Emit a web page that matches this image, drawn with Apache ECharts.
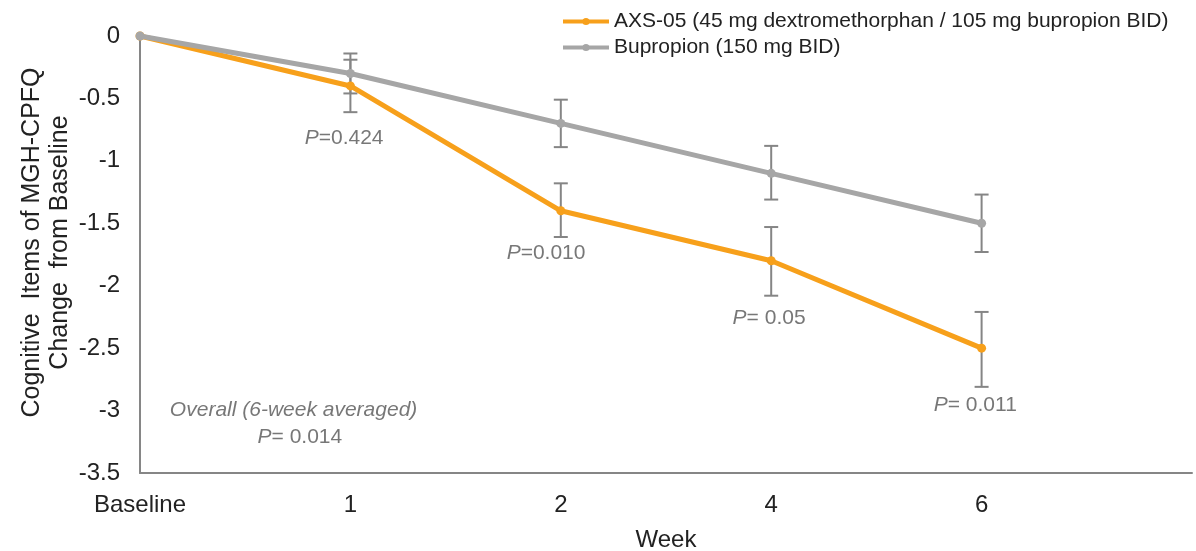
<!DOCTYPE html>
<html>
<head>
<meta charset="utf-8">
<script src="https://cdn.jsdelivr.net/npm/echarts@6/dist/echarts.min.js"></script>
<style>html,body{margin:0;padding:0;background:#fff}#c{width:1196px;height:551px}</style>
</head>
<body>
<div id="c"></div>
<script>
const categories = ['Baseline', '1', '2', '4', '6', ''];
const axsName = 'AXS-05 (45 mg dextromethorphan / 105 mg bupropion BID)';
const bupName = 'Bupropion (150 mg BID)';
const axsValues = [0, -0.4, -1.4, -1.8, -2.5];
const bupValues = [0, -0.3, -0.7, -1.1, -1.5];
const axsErrLow = [null, -0.61, -1.61, -2.08, -2.81];
const axsErrHigh = [null, -0.19, -1.18, -1.53, -2.21];
const bupErrLow = [null, -0.46, -0.89, -1.31, -1.73];
const bupErrHigh = [null, -0.14, -0.51, -0.88, -1.27];
const yTicks = [0, -0.5, -1, -1.5, -2, -2.5, -3, -3.5];
const annoText = ['{i|P}=0.424', '{i|P}=0.010', '{i|P}= 0.05', '{i|P}= 0.011', '{i|Overall (6-week averaged)}', '{i|P}= 0.014'];
const annoX = [0.97, 1.93, 2.99, 3.97, 0.73, 0.76];
const annoY = [-0.82, -1.74, -2.26, -2.96, -3.0, -3.21];

const FONT = "'Liberation Sans', Arial, sans-serif";
const ORANGE = '#F7A01B';
const GRAY = '#A6A6A6';
const ERR = '#858585';
const TXT = '#222';

function errData(lo, hi) {
  const out = [];
  for (let i = 0; i < lo.length; i++) if (lo[i] != null) out.push([i, lo[i], hi[i]]);
  return out;
}
function renderErr(params, api) {
  const x = api.value(0);
  const lo = api.coord([x, api.value(1)]);
  const hi = api.coord([x, api.value(2)]);
  const w = 7;
  const st = { stroke: ERR, lineWidth: 2 };
  return {
    type: 'group',
    children: [
      { type: 'line', shape: { x1: lo[0], y1: lo[1], x2: hi[0], y2: hi[1] }, style: st },
      { type: 'line', shape: { x1: lo[0] - w, y1: lo[1], x2: lo[0] + w, y2: lo[1] }, style: st },
      { type: 'line', shape: { x1: hi[0] - w, y1: hi[1], x2: hi[0] + w, y2: hi[1] }, style: st }
    ]
  };
}

const chart = echarts.init(document.getElementById('c'));
chart.setOption({
  animation: false,
  textStyle: { fontFamily: FONT },
  grid: { left: 140, right: 4, top: 36, bottom: 78, outerBoundsMode: 'none', containLabel: false },
  legend: {
    orient: 'vertical', left: 556, top: 6, itemGap: 5,
    itemWidth: 46, itemHeight: 9, itemTextGap: 3,
    lineStyle: { width: 4 },
    textStyle: { fontSize: 21, color: TXT, fontFamily: FONT },
    data: [axsName, bupName]
  },
  xAxis: [{
    type: 'category', data: categories, boundaryGap: false,
    axisLine: { onZero: false, lineStyle: { color: '#868686', width: 2 } },
    axisTick: { show: false },
    axisLabel: { fontSize: 24, color: TXT, margin: 20, fontFamily: FONT },
    name: 'Week', nameLocation: 'middle', nameGap: 55,
    nameTextStyle: { fontSize: 24, color: TXT, fontFamily: FONT }
  }, {
    type: 'value', min: 0, max: 5, show: false
  }],
  yAxis: {
    type: 'value', min: -3.5, max: 0, interval: 0.5,
    splitLine: { show: false },
    axisLine: { show: true, lineStyle: { color: '#868686', width: 2 } },
    axisTick: { show: false },
    axisLabel: { fontSize: 24, color: TXT, margin: 20, fontFamily: FONT,
      formatter: v => (yTicks.indexOf(v) >= 0 ? String(v) : '') },
    name: 'Cognitive  Items of MGH-CPFQ\nChange  from Baseline',
    nameLocation: 'middle', nameGap: 66, nameMoveOverlap: false,
    nameTextStyle: { fontSize: 25, color: TXT, lineHeight: 28, fontFamily: FONT, padding: [0, 0, 0, 24] }
  },
  series: [
    { type: 'custom', name: 'errBup', renderItem: renderErr, data: errData(bupErrLow, bupErrHigh), z: 1, silent: true, encode: { x: 0, y: [1, 2] } },
    { type: 'custom', name: 'errAxs', renderItem: renderErr, data: errData(axsErrLow, axsErrHigh), z: 1, silent: true, encode: { x: 0, y: [1, 2] } },
    { type: 'line', name: bupName, data: bupValues, color: GRAY, symbol: 'circle', symbolSize: 9,
      lineStyle: { width: 5, color: GRAY }, itemStyle: { color: GRAY }, z: 3 },
    { type: 'line', name: axsName, data: axsValues, color: ORANGE, symbol: 'circle', symbolSize: 9,
      lineStyle: { width: 5, color: ORANGE }, itemStyle: { color: ORANGE }, z: 2 },
    { type: 'scatter', name: 'anno', xAxisIndex: 1, symbolSize: 0, silent: true, z: 5,
      data: annoText.map((t, i) => ({ value: [annoX[i], annoY[i]], name: t })),
      label: { show: true, position: 'inside', formatter: p => p.name,
        fontSize: 21, color: '#555', fontFamily: FONT,
        rich: { i: { fontStyle: 'italic', fontSize: 21, color: '#555', fontFamily: FONT } } } }
  ]
});
</script>
</body>
</html>
